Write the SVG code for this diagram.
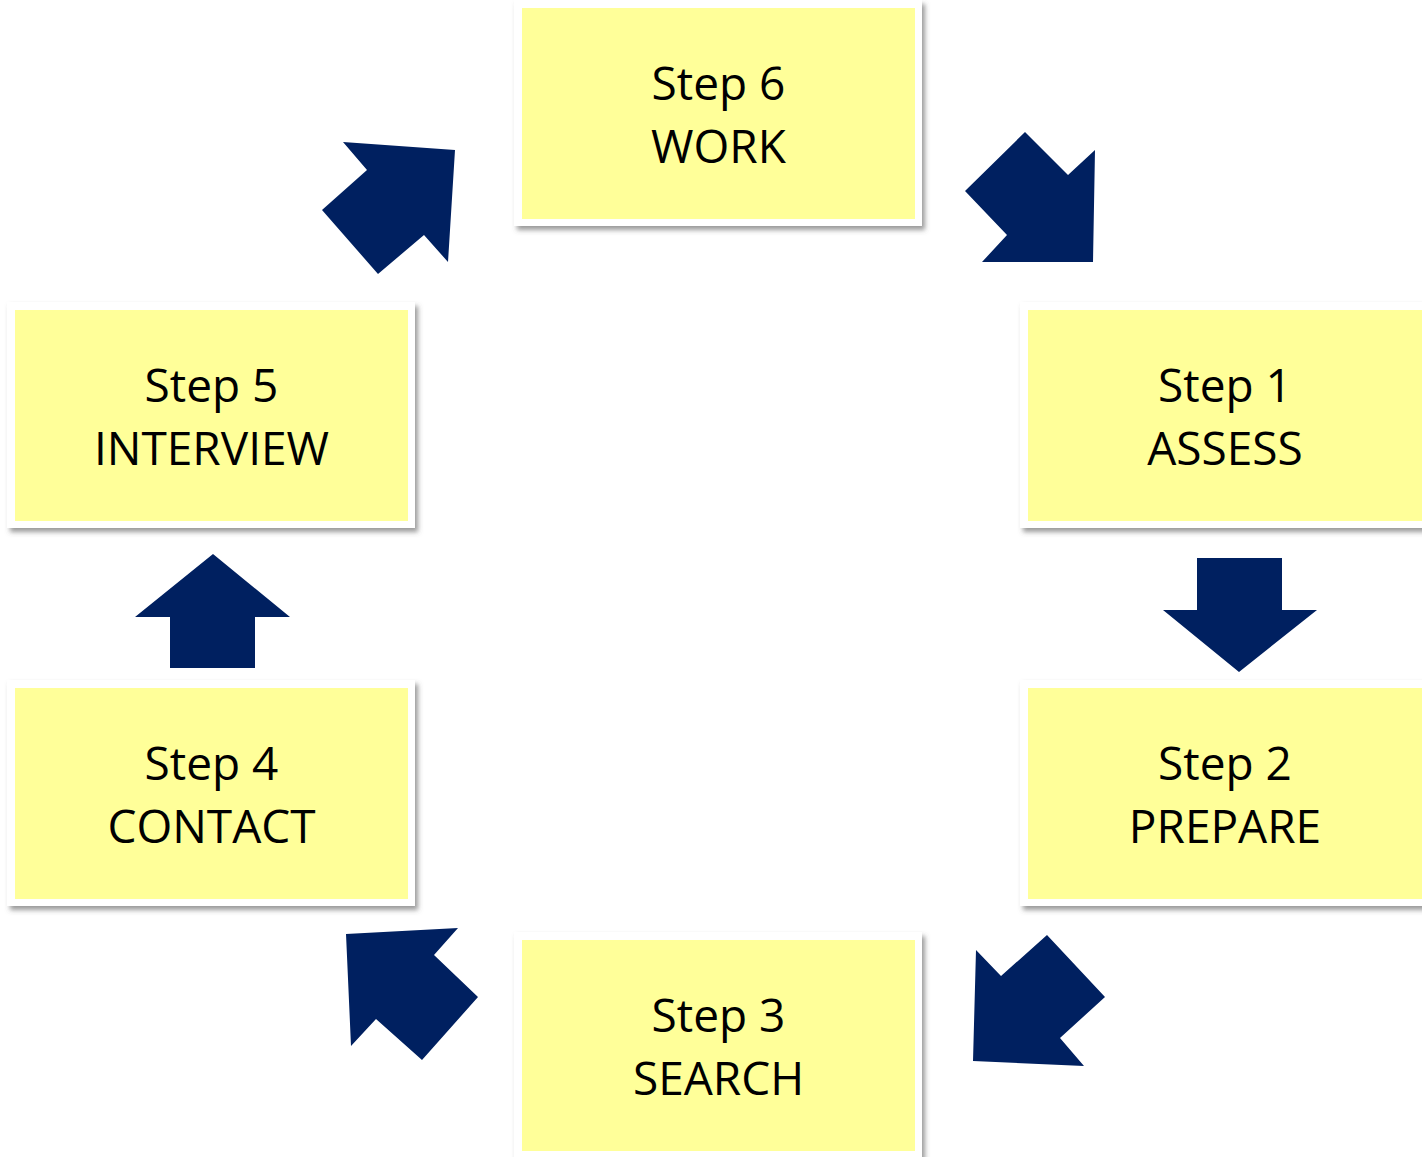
<svg xmlns="http://www.w3.org/2000/svg" width="1422" height="1157" viewBox="0 0 1422 1157">
<defs>
<filter id="sh" x="-5%" y="-5%" width="115%" height="115%">
<feDropShadow dx="3" dy="4" stdDeviation="2.5" flood-color="#555" flood-opacity="0.6"/>
</filter>
</defs>
<style>
.frame{fill:#ffffff;filter:url(#sh)}
.box{fill:#ffff99}
.lbl{font-family:"Open Sans",sans-serif;font-size:46px;fill:#000;text-anchor:middle}
.arr{fill:#002060}
</style>
<rect width="1422" height="1157" fill="#ffffff"/>
<g id="step6">
<rect class="frame" x="514" y="0" width="408" height="226"/>
<rect class="box" x="522" y="8" width="393" height="211"/>
<text class="lbl" x="718.5" y="100">Step 6</text>
<text class="lbl" x="718.5" y="163">WORK</text>
</g>
<g id="step1">
<rect class="frame" x="1020" y="302" width="408" height="226"/>
<rect class="box" x="1028" y="310" width="400" height="211"/>
<text class="lbl" x="1225" y="402">Step 1</text>
<text class="lbl" x="1225" y="465">ASSESS</text>
</g>
<g id="step2">
<rect class="frame" x="1020" y="680" width="408" height="226"/>
<rect class="box" x="1028" y="688" width="400" height="211"/>
<text class="lbl" x="1225" y="780">Step 2</text>
<text class="lbl" x="1225" y="843">PREPARE</text>
</g>
<g id="step3">
<rect class="frame" x="514" y="932" width="408" height="226"/>
<rect class="box" x="522" y="940" width="393" height="211"/>
<text class="lbl" x="718.5" y="1032">Step 3</text>
<text class="lbl" x="718.5" y="1095">SEARCH</text>
</g>
<g id="step4">
<rect class="frame" x="7" y="680" width="408" height="226"/>
<rect class="box" x="15" y="688" width="393" height="211"/>
<text class="lbl" x="211.5" y="780">Step 4</text>
<text class="lbl" x="211.5" y="843">CONTACT</text>
</g>
<g id="step5">
<rect class="frame" x="7" y="302" width="408" height="226"/>
<rect class="box" x="15" y="310" width="393" height="211"/>
<text class="lbl" x="211.5" y="402">Step 5</text>
<text class="lbl" x="211.5" y="465">INTERVIEW</text>
</g>
<g id="connectors">
<polygon class="arr" points="1025,132 1068,175 1095,150 1093,262 982,262 1007,235 965,191"/>
<polygon class="arr" points="1197,558 1282,558 1282,610 1317,610 1239,672 1163,610 1197,610"/>
<polygon class="arr" points="1047,935 1105,997 1060,1038 1084,1066 973,1061 976,950 1001,976"/>
<polygon class="arr" points="346,934 458,928 434,955 478,997 422,1060 376,1019 351,1046"/>
<polygon class="arr" points="213,554 290,617 255,617 255,668 170,668 170,617 135,617"/>
<polygon class="arr" points="343,142 455,150 448,262 424,235 378,274 322,210 367,170"/>
</g>
</svg>
